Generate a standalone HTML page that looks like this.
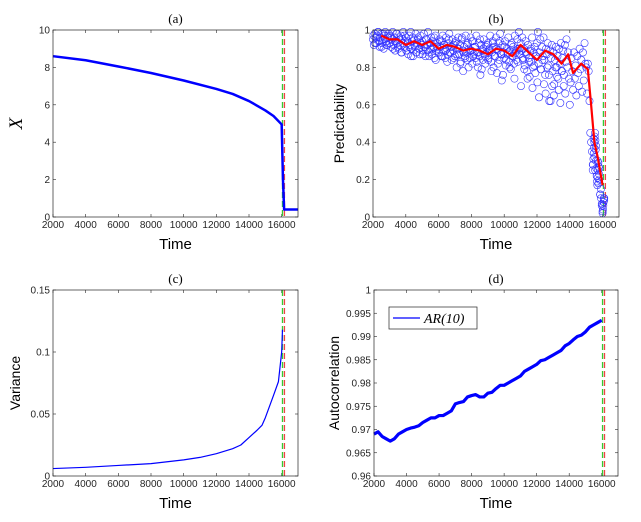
<!DOCTYPE html>
<html><head><meta charset="utf-8">
<style>
html,body{margin:0;padding:0;background:#fff;}
svg{display:block;font-family:"Liberation Sans",sans-serif;}
</style></head>
<body>
<svg id="fig" width="641" height="522" viewBox="0 0 641 522" xmlns="http://www.w3.org/2000/svg"></svg>
<script>
// ---- data ----
const aTime = [2000,4000,6000,8000,10000,12000,13000,14000,15000,15500,16000,16080,16150,17000];
const aX    = [8.6,8.38,8.05,7.7,7.3,6.85,6.58,6.2,5.7,5.4,4.95,2.0,0.4,0.4];

const bLineTime = [2500,3000,3500,4000,4500,5000,5500,6000,6500,7000,7500,8000,8500,9000,9500,10000,10500,11000,11500,12000,12500,13000,13500,13900,14200,14700,15100,15300,15500,15700,16000];
const bLineVal  = [0.97,0.95,0.95,0.92,0.94,0.92,0.94,0.90,0.92,0.91,0.89,0.90,0.89,0.87,0.90,0.89,0.86,0.92,0.88,0.84,0.89,0.87,0.82,0.87,0.77,0.82,0.79,0.60,0.40,0.32,0.17];
const bScatterStart = 2000;
const bScatterStep = 50;
const bScatterVal = [
0.95,0.92,0.98,0.96,0.93,0.97,0.99,0.94,0.91,0.96,0.98,0.93,0.95,0.90,0.97,0.99,0.94,0.92,0.96,0.98,
0.93,0.97,0.91,0.95,0.99,0.92,0.96,0.89,0.94,0.98,0.93,0.90,0.96,0.92,0.97,0.88,0.95,0.99,0.91,0.94,
0.96,0.89,0.93,0.87,0.97,0.92,0.99,0.90,0.94,0.86,0.95,0.91,0.98,0.88,0.93,0.96,0.90,0.87,0.97,0.92,
0.94,0.89,0.98,0.91,0.86,0.95,0.92,0.99,0.88,0.93,0.90,0.96,0.87,0.94,0.91,0.85,0.97,0.89,0.93,0.90,
0.88,0.95,0.91,0.86,0.94,0.97,0.89,0.92,0.85,0.96,0.90,0.87,0.93,0.98,0.88,0.91,0.84,0.95,0.89,0.92,
0.86,0.94,0.80,0.90,0.96,0.87,0.92,0.83,0.95,0.89,0.78,0.91,0.86,0.97,0.88,0.84,0.93,0.90,0.85,0.96,
0.89,0.82,0.94,0.87,0.91,0.85,0.97,0.88,0.80,0.93,0.86,0.76,0.92,0.89,0.84,0.95,0.87,0.82,0.91,0.88,
0.93,0.85,0.90,0.97,0.83,0.88,0.94,0.80,0.91,0.86,0.96,0.77,0.89,0.93,0.84,0.98,0.87,0.73,0.92,0.88,
0.85,0.94,0.81,0.90,0.87,0.96,0.83,0.89,0.79,0.93,0.86,0.91,0.82,0.97,0.88,0.84,0.95,0.90,0.99,0.87,
0.93,0.89,0.96,0.84,0.90,0.81,0.94,0.87,0.78,0.92,0.85,0.75,0.89,0.83,0.96,0.80,0.88,0.91,0.77,0.86,
0.93,0.99,0.82,0.88,0.95,0.79,0.91,0.86,0.96,0.84,0.76,0.90,0.87,0.93,0.81,0.62,0.89,0.85,0.92,0.78,
0.88,0.71,0.84,0.91,0.80,0.86,0.74,0.90,0.82,0.93,0.78,0.85,0.89,0.76,0.92,0.83,0.95,0.80,0.88,0.74,
0.60,0.72,0.85,0.78,0.68,0.88,0.74,0.81,0.65,0.86,0.77,0.70,0.90,0.79,0.84,0.67,0.88,0.73,0.93,0.82,
0.80,0.66,0.82,0.78,0.62,0.45,0.40,0.35,0.28,0.42,0.32,0.25,0.38,0.22,0.30,0.18,0.26,0.12,0.15,0.06,
0.03,0.08,0.10];
const bScatterDupStart = 2025;
const bScatterDupStep = 100;
const bScatterDupVal = [
0.97,0.93,0.96,0.99,0.94,0.91,0.98,0.95,0.92,0.97,
0.93,0.96,0.90,0.94,0.98,0.91,0.95,0.88,0.93,0.97,
0.89,0.94,0.91,0.86,0.96,0.92,0.88,0.95,0.90,0.93,
0.87,0.91,0.95,0.89,0.86,0.93,0.90,0.96,0.84,0.91,
0.88,0.94,0.86,0.92,0.89,0.83,0.95,0.88,0.91,0.85,
0.93,0.87,0.90,0.82,0.96,0.88,0.85,0.92,0.80,0.89,
0.94,0.86,0.91,0.83,0.88,0.95,0.79,0.90,0.86,0.92,
0.84,0.89,0.78,0.93,0.86,0.90,0.82,0.94,0.87,0.76,
0.91,0.84,0.88,0.80,0.92,0.86,0.74,0.89,0.83,0.90,
0.70,0.85,0.79,0.88,0.74,0.83,0.90,0.69,0.81,0.86,
0.72,0.64,0.79,0.84,0.71,0.66,0.80,0.76,0.62,0.70,
0.65,0.80,0.75,0.68,0.61,0.78,0.70,0.66];
const bDropTime = [15400,15420,15440,15460,15480,15500,15520,15540,15560,15580,15600,15620,15640,15660,15680,15700,15720,15740,15760,15780,15800,15850,15900,15950,16000,16020,16040,16060,16080,16100];
const bDropVal  = [0.25,0.28,0.31,0.34,0.37,0.40,0.43,0.45,0.41,0.36,0.30,0.26,0.22,0.19,0.17,0.21,0.25,0.29,0.27,0.23,0.20,0.12,0.10,0.07,0.02,0.04,0.06,0.08,0.10,0.09];

const cTime = [2000,4000,6000,8000,10000,11000,12000,13000,13500,14000,14500,14800,15000,15500,15800,16000,16050];
const cVar  = [0.006,0.007,0.0085,0.010,0.013,0.015,0.018,0.022,0.025,0.031,0.037,0.041,0.047,0.065,0.076,0.10,0.118];

const dTime = [2000,2250,2500,2750,3000,3250,3500,3750,4000,4250,4500,4750,5000,5250,5500,5750,6000,6250,6500,6750,7000,7250,7500,7750,8000,8250,8500,8750,9000,9250,9500,9750,10000,10250,10500,10750,11000,11250,11500,11750,12000,12250,12500,12750,13000,13250,13500,13750,14000,14250,14500,14750,15000,15250,15500,15750,16000];
const dAC   = [0.969,0.9695,0.9685,0.968,0.9675,0.968,0.969,0.9695,0.970,0.9703,0.9705,0.9708,0.9715,0.972,0.9725,0.9725,0.973,0.973,0.9735,0.974,0.9755,0.9758,0.976,0.977,0.9773,0.9775,0.977,0.977,0.9778,0.978,0.9788,0.9795,0.9795,0.980,0.9805,0.981,0.9815,0.9825,0.983,0.9835,0.984,0.9848,0.985,0.9855,0.986,0.9865,0.987,0.988,0.9885,0.9893,0.990,0.9903,0.991,0.992,0.9925,0.993,0.9935];

const xTicks = [2000,4000,6000,8000,10000,12000,14000,16000];
const aYTicks = [0,2,4,6,8,10];
const bYTicks = [0,0.2,0.4,0.6,0.8,1];
const bYLabels = ['0','0.2','0.4','0.6','0.8','1'];
const cYTicks = [0,0.05,0.1,0.15];
const cYLabels = ['0','0.05','0.1','0.15'];
const dYTicks = [0.96,0.965,0.97,0.975,0.98,0.985,0.99,0.995,1];
const dYLabels = ['0.96','0.965','0.97','0.975','0.98','0.985','0.99','0.995','1'];
const greenT = 16050, redT = 16170;

// ---- helpers ----
const NS = 'http://www.w3.org/2000/svg';
const fig = document.getElementById('fig');
function mk(tag, attrs, parent){
  const e = document.createElementNS(NS, tag);
  for (const k in attrs) e.setAttribute(k, attrs[k]);
  (parent||fig).appendChild(e);
  return e;
}
function panel(name, L, R, T, B, x0, x1, y0, y1){
  const g = mk('g', {});
  
  
  const sx = v => L + (v - x0) / (x1 - x0) * (R - L);
  const sy = v => B - (v - y0) / (y1 - y0) * (B - T);
  return {g, sx, sy, L, R, T, B};
}
function axes(p, yTicks, yLabels, title, ylabel, ylabelX, ylabelStyle){
  const g = p.g;
  xTicks.forEach(t => {
    const x = p.sx(t);
    mk('line', {x1:x, x2:x, y1:p.B, y2:p.B-3, stroke:'#262626', 'stroke-width':0.6}, g);
    mk('line', {x1:x, x2:x, y1:p.T, y2:p.T+3, stroke:'#262626', 'stroke-width':0.6}, g);
    const tx = mk('text', {x:x, y:p.B+11, 'font-size':10, 'text-anchor':'middle', fill:'#262626'}, g);
    
    
    tx.textContent = t;
  });
  yTicks.forEach((t, i) => {
    const y = p.sy(t);
    mk('line', {x1:p.L, x2:p.L+3, y1:y, y2:y, stroke:'#262626', 'stroke-width':0.6}, g);
    mk('line', {x1:p.R, x2:p.R-3, y1:y, y2:y, stroke:'#262626', 'stroke-width':0.6}, g);
    const tx = mk('text', {x:p.L-3, y:y+3.5, 'font-size':10, 'text-anchor':'end', fill:'#262626'}, g);
    
    
    tx.textContent = yLabels[i];
  });
  const ttl = mk('text', {x:(p.L+p.R)/2, y:p.T-7, 'font-size':13, 'text-anchor':'middle', 'font-family':'Liberation Serif, serif', fill:'#000'}, g);
  
  
  ttl.textContent = title;
  const xl = mk('text', {x:(p.L+p.R)/2, y:p.B+32, 'font-size':15, 'text-anchor':'middle', fill:'#000'}, g);
  
  
  xl.textContent = 'Time';
  const cy = (p.T+p.B)/2;
  const yl = mk('text', {x:ylabelX, y:cy, 'font-size':ylabelStyle.size, 'text-anchor':'middle', transform:`rotate(-90 ${ylabelX} ${cy})`, fill:'#000'}, g);
  if (ylabelStyle.serif){ yl.setAttribute('font-family','Liberation Serif, serif'); yl.setAttribute('font-style','italic'); }
  
  
  yl.textContent = ylabel;
}
function box(p){
  const r = mk('rect', {x:p.L, y:p.T, width:p.R-p.L, height:p.B-p.T, fill:'none', stroke:'#262626', 'stroke-width':0.7}, p.g);
  
  
}
function vlines(p){
  const gl = mk('line', {x1:p.sx(greenT), x2:p.sx(greenT), y1:p.T, y2:p.B, stroke:'#33cc33', 'stroke-width':1.3, 'stroke-dasharray':'6,3'}, p.g);
  
  
  const rl = mk('line', {x1:p.sx(redT), x2:p.sx(redT), y1:p.T, y2:p.B, stroke:'#ee4444', 'stroke-width':1.3, 'stroke-dasharray':'6,3'}, p.g);
  
  
}
function line(p, xs, ys, color, w, name){
  const d = xs.map((x,i) => (i?'L':'M') + p.sx(x).toFixed(2) + ',' + p.sy(ys[i]).toFixed(2)).join('');
  const e = mk('path', {d:d, fill:'none', stroke:color, 'stroke-width':w, 'stroke-linejoin':'round'}, p.g);
  
  
}
function dot(p, t, v){
  const c = mk('circle', {cx:p.sx(t), cy:p.sy(v), r:3.6, fill:'none', stroke:'#3333ff', 'stroke-width':0.6}, p.g);
  
  
}

// ---- panel a ----
const pa = panel('panel-a', 53, 298, 30, 217, 2000, 17000, 0, 10);
axes(pa, aYTicks, aYTicks.map(String), '(a)', 'X', 22, {size:19, serif:true});
vlines(pa);
line(pa, aTime, aX, '#0000ff', 2.5, 'x-series-line');
box(pa);

// ---- panel b ----
const pb = panel('panel-b', 373, 619, 30, 217, 2000, 17000, 0, 1);
axes(pb, bYTicks, bYLabels, '(b)', 'Predictability', 344, {size:14});
vlines(pb);
bScatterVal.forEach((v,i) => dot(pb, bScatterStart + i*bScatterStep, v));
bScatterDupVal.forEach((v,i) => dot(pb, bScatterDupStart + i*bScatterDupStep, v));
bDropVal.forEach((v,i) => dot(pb, bDropTime[i], v));
line(pb, bLineTime, bLineVal, '#ff0000', 2.2, 'predictability-mean-line');
box(pb);

// ---- panel c ----
const pc = panel('panel-c', 53, 298, 290, 476, 2000, 17000, 0, 0.15);
axes(pc, cYTicks, cYLabels, '(c)', 'Variance', 20, {size:14});
vlines(pc);
line(pc, cTime, cVar, '#0000ff', 1.2, 'variance-line');
box(pc);

// ---- panel d ----
const pd = panel('panel-d', 374, 618, 290, 476, 2000, 17000, 0.96, 1);
axes(pd, dYTicks, dYLabels, '(d)', 'Autocorrelation', 339, {size:14});
vlines(pd);
line(pd, dTime, dAC, '#0000ff', 3.2, 'autocorrelation-line');
box(pd);
const lg = mk('g', {});


mk('rect', {x:389, y:307, width:88, height:22, fill:'#fff', stroke:'#262626', 'stroke-width':0.7}, lg);
mk('line', {x1:393, x2:420, y1:318, y2:318, stroke:'#0000ff', 'stroke-width':1.2}, lg);
const lt = mk('text', {x:424, y:323, 'font-size':14, 'font-family':'Liberation Serif, serif', 'font-style':'italic', fill:'#000'}, lg);


lt.textContent = 'AR(10)';
</script>
</body></html>
